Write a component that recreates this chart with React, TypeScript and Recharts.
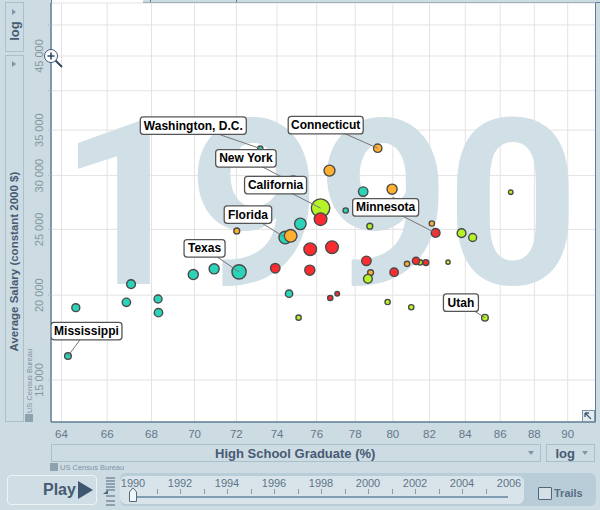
import React from "react";
import { ScatterChart, Scatter, XAxis, YAxis, ZAxis, CartesianGrid } from "recharts";

type Row = [number, number, number, string?];

// [high school graduate %, average salary, population-like size, state label]
const tealStates: Row[] = [
  [73.17, 32880, 2.16, "Washington, D.C."],
  [74.41, 24315, 12.5, "Florida"],
  [75.17, 25470, 10.5],
  [78.42, 28420, 7],
  [77.5, 26650, 2.16],
  [72.13, 21645, 16, "Texas"],
  [70.93, 21870, 8],
  [69.94, 21450, 8],
  [67.07, 20760, 6.1],
  [66.86, 19520, 5.5],
  [64.62, 19170, 5],
  [68.3, 19740, 5],
  [68.32, 18850, 5.5],
  [74.6, 20100, 4.2],
  [64.28, 16270, 3.5, "Mississippi"],
];
const orangeStates: Row[] = [
  [72.02, 24870, 2.7],
  [74.68, 24455, 12.5],
  [79.19, 32920, 5.5, "Connecticut"],
  [76.66, 30510, 9.4],
  [79.96, 28650, 8],
  [74.81, 29270, 15, "New York"],
  [82.13, 25500, 2.16],
  [78.81, 21590, 2.7],
  [80.77, 22240, 2.16],
];
const greenStates: Row[] = [
  [76.2, 26870, 26.8, "California"],
  [86.61, 28360, 1.67],
  [78.77, 25270, 2.7],
  [83.79, 24680, 6.1],
  [84.42, 24315, 5],
  [78.67, 21140, 6.1],
  [81.48, 22350, 2.16],
  [83.03, 22370, 1.38],
  [79.72, 19540, 2.16],
  [81.0, 19200, 2.16],
  [85.12, 18530, 3.5, "Utah"],
  [75.08, 18530, 2.16],
  [80.04, 27530, 2.16],
];
const redStates: Row[] = [
  [76.2, 25880, 12.5],
  [82.34, 24700, 6.1, "Minnesota"],
  [75.67, 23375, 12.5],
  [76.79, 23535, 12.5],
  [73.91, 21915, 7],
  [75.65, 21770, 8],
  [78.59, 22470, 7],
  [80.07, 21620, 5.5],
  [81.26, 22470, 4.2],
  [81.8, 22340, 2.7],
  [76.7, 19810, 2.16],
  [77.06, 20100, 1.67],
];

const xTicks = [64, 66, 68, 70, 72, 74, 76, 78, 80, 82, 84, 86, 88, 90];
const yTicks = [15000, 20000, 25000, 30000, 35000, 40000, 45000, 50000];
const yHiddenLabels = [40000, 50000];
const years = [1990, 1992, 1994, 1996, 1998, 2000, 2002, 2004, 2006];

// label box: centre offset from its bubble, and box width
const labelBoxes: Record<string, [number, number, number]> = {
  "Washington, D.C.": [-67, -23, 106],
  "New York": [-47.3, -24.5, 60.5],
  California: [-45, -23, 62],
  Connecticut: [-52, -23, 75],
  Minnesota: [-50, -25.5, 66],
  Florida: [-37.3, -23, 47.5],
  Texas: [-34.5, -23.5, 41],
  Mississippi: [18.5, -25, 71],
  Utah: [-24, -15, 35],
};

const toPoints = (rows: Row[]) => rows.map(([x, y, z, name]) => ({ x, y, z, name }));
const labelled = toPoints([...tealStates, ...orangeStates, ...greenStates, ...redStates]).filter((p) => p.name);

const FONT = "'Liberation Sans', Arial, sans-serif";
const PAGE = "#cddbe3";
const BOX = "#a9c0cd";
const INK = "#465a72";

const abs = (left: number, top: number, width: number, height: number, extra: React.CSSProperties = {}): React.CSSProperties => ({
  position: "absolute",
  left,
  top,
  width,
  height,
  boxSizing: "border-box",
  ...extra,
});

function YTick(props: any) {
  const { x, y, payload } = props;
  if (yHiddenLabels.includes(payload.value)) return <g />;
  const s = String(payload.value).replace(/(\d+)(\d{3})$/, "$1 $2");
  const tx = x - 3;
  return (
    <text x={tx} y={y} transform={`rotate(-90 ${tx} ${y})`} textAnchor="middle" fontSize={11} fontFamily={FONT} fill="#84989f">
      {s}
    </text>
  );
}

function LabelShape(props: any) {
  const { cx, cy, payload } = props;
  const box = labelBoxes[payload.name];
  if (!box) return <g />;
  const [dx, dy, w] = box;
  const h = 17.5;
  return (
    <g>
      <line x1={cx} y1={cy} x2={cx + dx} y2={cy + dy} stroke="#777" strokeWidth={1} />
      <rect x={cx + dx - w / 2} y={cy + dy - h / 2} width={w} height={h} rx={3} fill="#fff" stroke="#555" strokeWidth={1.3} />
      <text x={cx + dx} y={cy + dy + 4} textAnchor="middle" fontSize={12} fontWeight={700} fontFamily={FONT} fill="#000">
        {payload.name}
      </text>
    </g>
  );
}

const bubble = { stroke: "#4a4a4a", strokeWidth: 1.4, isAnimationActive: false } as const;

export default function App() {
  return (
    <div style={{ position: "absolute", left: 0, top: 0, width: 600, height: 510, background: PAGE, overflow: "hidden", fontFamily: FONT }}>
      {/* plot background and top strip */}
      <div style={abs(51, 0, 545, 422, { background: "#fff" })} />
      <div style={abs(143, 0, 457, 3, { background: PAGE, borderBottom: "1px solid #5f7d96" })} />
      <div style={abs(150, 0, 1, 3, { background: "#5f7d96" })} />
      <div style={abs(236, 0, 1, 3, { background: "#5f7d96" })} />

      {/* axis selectors */}
      <div style={abs(4.5, 2, 19, 50, { border: `1px solid ${BOX}` })} />
      <div style={abs(4.5, 55, 19, 367, { border: `1px solid ${BOX}` })} />
      <div style={abs(51, 444, 490, 18, { border: `1px solid ${BOX}` })} />
      <div style={abs(546, 444, 49, 18, { border: `1px solid ${BOX}` })} />

      <div style={{ position: "absolute", left: 0, top: 0 }}>
        <ScatterChart width={600} height={510} margin={{ top: 3, right: 4.5, bottom: 0, left: 0 }}>
          <text x={0} y={0} transform="translate(59 284)" letterSpacing={-4} fontSize={232} fontWeight={700} fontFamily="Roboto, 'Liberation Sans', sans-serif" fill="#d1dfe6">
            1990
          </text>
          <CartesianGrid stroke="#e3e3e3" strokeWidth={1} />
          <XAxis
            dataKey="x"
            type="number"
            scale="log"
            domain={[63.55, 91.7]}
            allowDataOverflow
            ticks={xTicks}
            interval={0}
            height={88}
            tickSize={0}
            tickMargin={8}
            tick={{ fontSize: 11.5, fontFamily: FONT, fill: "#64788c" }}
            axisLine={{ stroke: "#5f7d96", strokeWidth: 1.5 }}
            label={{ value: "High School Graduate (%)", position: "insideTop", offset: 27, fontSize: 13, fontWeight: 700, fontFamily: FONT, fill: INK, dx: -28 }}
          />
          <YAxis
            dataKey="y"
            type="number"
            scale="log"
            domain={[13010, 53860]}
            allowDataOverflow
            ticks={yTicks}
            interval={0}
            width={51}
            tickSize={3}
            tickLine={{ stroke: "#aebfcb" }}
            tick={<YTick />}
            axisLine={{ stroke: "#5f7d96", strokeWidth: 1.5 }}
            label={{ value: "Average Salary (constant 2000 $)", angle: -90, position: "insideLeft", offset: 0, dx: 14, dy: 139, fontSize: 11.5, fontWeight: 700, fontFamily: FONT, fill: INK }}
          />
          <ZAxis dataKey="z" type="number" scale="linear" domain={[0, 30]} range={[0, 300]} />
          <Scatter data={toPoints(tealStates)} fill="#2bd3b8" {...bubble} />
          <Scatter data={toPoints(orangeStates)} fill="#ffb02e" {...bubble} />
          <Scatter data={toPoints(greenStates)} fill="#b5f228" {...bubble} />
          <Scatter data={toPoints(redStates)} fill="#fb2b2f" {...bubble} />
          <Scatter data={labelled} shape={<LabelShape />} isAnimationActive={false} />
        </ScatterChart>
      </div>

      {/* plot right and top edge */}
      <div style={abs(595, 3, 1, 419, { background: "#5f7d96" })} />
      <div style={abs(51, 0, 1, 3, { background: "#5f7d96" })} />

      {/* selector captions */}
      <div style={{ position: "absolute", left: 14, top: 31, transform: "translate(-50%,-50%) rotate(-90deg)", fontSize: 13, fontWeight: 700, color: INK }}>log</div>
      <div style={{ position: "absolute", left: 570, top: 453, transform: "translate(-75%,-50%)", fontSize: 13, fontWeight: 700, color: INK }}>log</div>
      {[[13.5, 12, "r"], [13.5, 64, "r"], [531, 453, "d"], [585, 453, "d"]].map(([x, y, d], i) => (
        <svg key={i} style={abs((x as number) - 4, (y as number) - 4, 8, 8)} viewBox="0 0 8 8">
          <polygon points={d === "d" ? "1,2 7,2 4,6" : "2,1 2,7 6,4"} fill="#7f96a8" />
        </svg>
      ))}

      {/* source notes */}
      <div style={{ position: "absolute", left: 60, top: 463, fontSize: 7.5, color: "#7f93a3" }}>US Census Bureau</div>
      <div style={abs(50, 463, 8, 8, { background: "#8fa2b0" })} />
      <div style={{ position: "absolute", left: 29, top: 381, transform: "translate(-50%,-50%) rotate(-90deg)", whiteSpace: "nowrap", fontSize: 7.5, color: "#7f93a3" }}>US Census Bureau</div>
      <div style={abs(25, 414, 8, 8, { background: "#8fa2b0" })} />

      {/* zoom handle */}
      <svg style={abs(42, 47, 22, 22)} viewBox="0 0 22 22">
        <line x1={13} y1={13} x2={20} y2={20} stroke="#2f4760" strokeWidth={2} />
        <circle cx={9} cy={9} r={6.5} fill="#fff" stroke="#3f5a75" strokeWidth={1} />
        <path d="M5.5 9h7M9 5.5v7" stroke="#2f4760" strokeWidth={1.6} />
      </svg>
      {/* expand button */}
      <svg style={abs(582, 410, 13, 12)} viewBox="0 0 13 12">
        <rect x={0.5} y={0.5} width={12} height={11} fill="#e4ecf0" stroke="#7f96a8" />
        <path d="M3 3l6 6M3 3h4M3 3v4" stroke="#3f5a75" strokeWidth={1.3} fill="none" />
      </svg>

      {/* play bar */}
      <div style={abs(7, 475, 90, 29.5, { border: "1.5px solid #eef4f6", borderRadius: 4, background: "#cfdde4" })} />
      <div style={{ position: "absolute", left: 43, top: 480, fontSize: 16, fontWeight: 700, color: INK, lineHeight: "20px" }}>Play</div>
      <svg style={abs(78, 481, 15, 18)} viewBox="0 0 15 18">
        <polygon points="0,0 15,9 0,18" fill="#3f5570" />
      </svg>
      <svg style={abs(102, 476, 14, 30)} viewBox="0 0 14 30">
        {[2, 5, 8, 11, 14, 20, 25, 29].map((y) => (
          <line key={y} x1={4} y1={y} x2={13} y2={y} stroke="#4f657c" strokeWidth={1} />
        ))}
        <path d="M1 18l5-4v4z" fill="#4f657c" />
      </svg>
      <div style={abs(120, 473, 476, 33, { background: "#b9cdd8", borderRadius: 6 })} />
      <div style={abs(120, 476, 404, 28, { background: "#d8e4ea", borderRadius: 6 })} />
      {years.map((y, i) => (
        <div key={y} style={{ position: "absolute", left: 133 + 47 * i, top: 477, transform: "translateX(-50%)", fontSize: 11, color: "#5f7488" }}>{y}</div>
      ))}
      {years.slice(0, -1).flatMap((y, i) => [0, 1].map((k) => (
        <div key={`${y}${k}`} style={abs(133 + 47 * i + 23.5 * k + (k === 0 && i === 0 ? 23.5 : 0), 489, 1, 5, { background: "#7f9cb0" })} />
      )))}
      <div style={abs(133, 496, 375, 1.5, { background: "#7f9cb0" })} />
      <svg style={abs(129, 487, 8, 15)} viewBox="0 0 8 15">
        <path d="M0.5 14.5V5L4 0.8 7.5 5v9.5z" fill="#f2f6f8" stroke="#54697e" />
      </svg>
      <div style={abs(538, 487, 13.5, 13, { border: "1.5px solid #4f657c", background: "#d4e0e6", borderRadius: 1 })} />
      <div style={{ position: "absolute", left: 554, top: 487, fontSize: 11, fontWeight: 700, color: "#5a6f85", lineHeight: "13px" }}>Trails</div>
    </div>
  );
}
